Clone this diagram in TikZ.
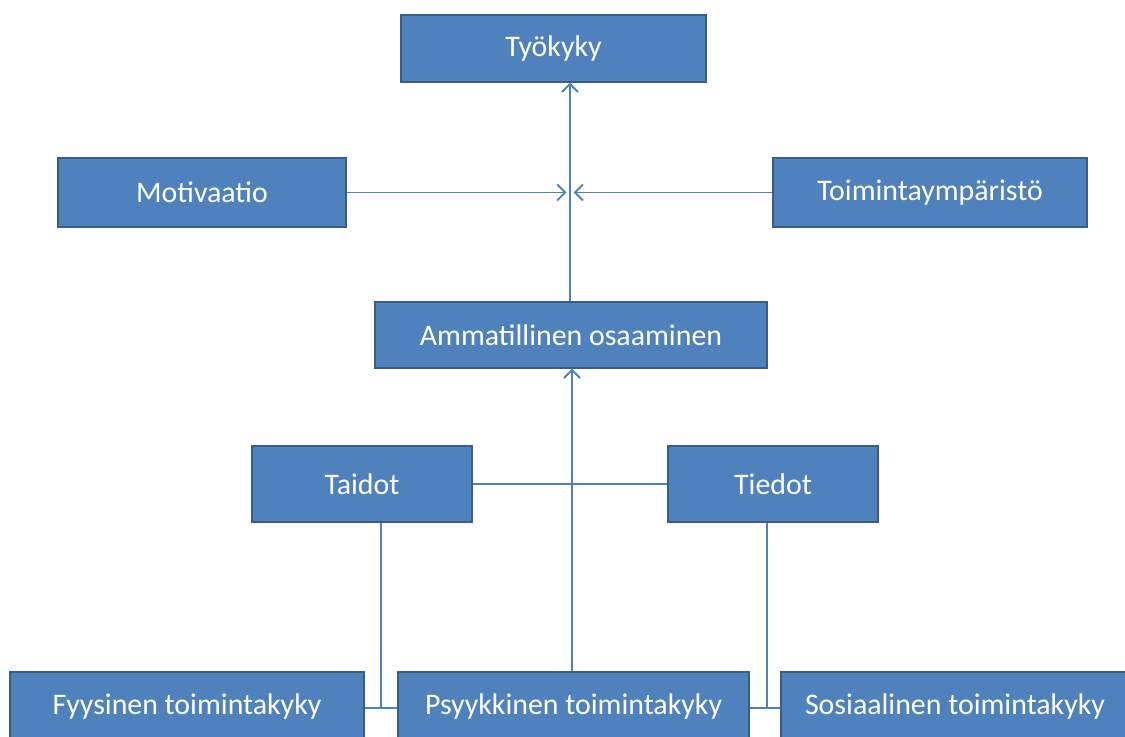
\documentclass[tikz,border=0pt]{standalone}
\usepackage{fontspec}
\setmainfont{Carlito}
\usepackage{tikz}
\usetikzlibrary{arrows.meta}

\definecolor{boxfill}{RGB}{79,129,189}
\definecolor{boxline}{RGB}{56,93,138}
\definecolor{linkcol}{RGB}{79,129,189}

\begin{document}
\begin{tikzpicture}[
    box/.style={draw=boxline, line width=0.8pt, fill=boxfill, text=white,
        font=\fontsize{17}{20}\selectfont, inner sep=0pt, anchor=center},
    link/.style={draw=linkcol, line width=1.1pt},
    >={Straight Barb[length=1.6mm,width=3.2mm]}
  ]
    \def\W{22.5} % picture width
    \def\H{14.72} % picture height
    \def\yb{0.58} % centre of the bottom row
    \clip (0,0) rectangle (\W,\H);
    \useasboundingbox (0,0) rectangle (\W,\H);

    % top
    \node[box, minimum width=6.1cm, minimum height=1.34cm] (tyokyky) at (11.07,13.75) {Työkyky};
    \node[box, minimum width=5.76cm, minimum height=1.38cm] (motivaatio) at (4.04,10.87) {Motivaatio};
    \node[box, minimum width=6.28cm, minimum height=1.38cm] (ymparisto) at (18.6,10.87) {Toimintaympäristö};

    % middle
    \node[box, minimum width=7.84cm, minimum height=1.32cm] (osaaminen) at (11.42,8.02) {Ammatillinen osaaminen};
    \node[box, minimum width=4.4cm, minimum height=1.52cm] (taidot) at (7.24,5.04) {Taidot};
    \node[box, minimum width=4.2cm, minimum height=1.52cm] (tiedot) at (15.46,5.04) {Tiedot};

    % bottom row (cut by the lower edge)
    \node[box, minimum width=7.08cm, minimum height=1.4cm] (fyysinen) at (3.74,\yb) {Fyysinen toimintakyky};
    \node[box, minimum width=7.02cm, minimum height=1.4cm] (psyykkinen) at (11.47,\yb) {Psyykkinen toimintakyky};
    \node[box, minimum width=6.96cm, minimum height=1.4cm] (sosiaalinen) at (19.1,\yb) {Sosiaalinen toimintakyky};

    \coordinate (hub) at (11.4,10.87);
    \coordinate (mid) at (11.44,8.02);
    \coordinate (jl) at (7.62,0.56);
    \coordinate (jr) at (15.34,0.56);

    % arrows
    \draw[link,->] (osaaminen.north -| hub) -- (tyokyky.south -| hub);
    \draw[link,->] (motivaatio.east) -- ([xshift=-2pt]hub);
    \draw[link,->] (ymparisto.west) -- ([xshift=2pt]hub);
    \draw[link,->] (psyykkinen.north -| mid) -- (osaaminen.south -| mid);

    % plain lines
    \draw[link] (taidot.east) -- (tiedot.west);
    \draw[link] (taidot.south -| jl) -- (jl);
    \draw[link] (fyysinen.east |- jl) -- (psyykkinen.west |- jl);
    \draw[link] (tiedot.south -| jr) -- (jr);
    \draw[link] (psyykkinen.east |- jr) -- (sosiaalinen.west |- jr);
\end{tikzpicture}
\end{document}
